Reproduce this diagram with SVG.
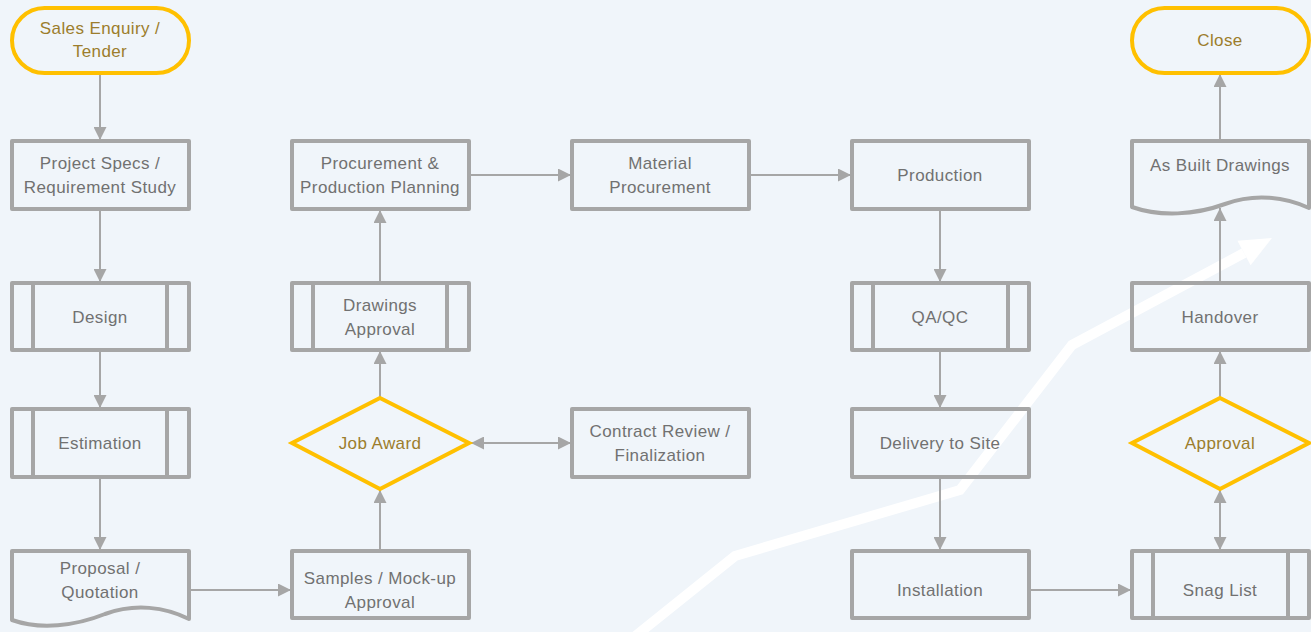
<svg xmlns="http://www.w3.org/2000/svg" width="1311" height="632" viewBox="0 0 1311 632">
<defs>
<style>
.box{fill:none;stroke:#a6a6a6;stroke-width:4;stroke-linejoin:round}
.inner{stroke:#a6a6a6;stroke-width:4}
.term{fill:none;stroke:#ffc000;stroke-width:4}
.t{font-family:"Liberation Sans",Arial,sans-serif;font-size:17px;letter-spacing:0.4px;fill:#717171;text-anchor:middle}
.g{fill:#9c7d2c}
.c{fill:none;stroke:#a6a6a6;stroke-width:2}
</style>
<marker id="ah" viewBox="0 0 13 13" refX="13" refY="6.5" markerWidth="13" markerHeight="13" markerUnits="userSpaceOnUse" orient="auto-start-reverse">
<path d="M0,0 L13,6.5 L0,13 Z" fill="#a6a6a6"/>
</marker>
</defs>
<rect width="1311" height="632" fill="#f0f5fa"/>
<g id="trend">
<polyline points="628,642 735,556 960,490 1072,345 1244,253" fill="none" stroke="#ffffff" stroke-width="10" stroke-linejoin="miter"/>
<polygon points="1272,238 1250.6,265.3 1237.4,240.7" fill="#ffffff"/>
</g>
<g id="connectors">
<line class="c" x1="100" y1="74" x2="100" y2="140" marker-end="url(#ah)"/>
<line class="c" x1="100" y1="210" x2="100" y2="282" marker-end="url(#ah)"/>
<line class="c" x1="100" y1="351" x2="100" y2="408" marker-end="url(#ah)"/>
<line class="c" x1="100" y1="478" x2="100" y2="550" marker-end="url(#ah)"/>
<line class="c" x1="190" y1="590" x2="291" y2="590" marker-end="url(#ah)"/>
<line class="c" x1="380" y1="550" x2="380" y2="490" marker-end="url(#ah)"/>
<line class="c" x1="380" y1="397" x2="380" y2="351" marker-end="url(#ah)"/>
<line class="c" x1="380" y1="282" x2="380" y2="210" marker-end="url(#ah)"/>
<line class="c" x1="470" y1="175" x2="571" y2="175" marker-end="url(#ah)"/>
<line class="c" x1="750" y1="175" x2="851" y2="175" marker-end="url(#ah)"/>
<line class="c" x1="471" y1="443" x2="571" y2="443" marker-start="url(#ah)" marker-end="url(#ah)"/>
<line class="c" x1="940" y1="210" x2="940" y2="282" marker-end="url(#ah)"/>
<line class="c" x1="940" y1="351" x2="940" y2="408" marker-end="url(#ah)"/>
<line class="c" x1="940" y1="478" x2="940" y2="550" marker-end="url(#ah)"/>
<line class="c" x1="1030" y1="590" x2="1131" y2="590" marker-end="url(#ah)"/>
<line class="c" x1="1220" y1="550" x2="1220" y2="490" marker-start="url(#ah)" marker-end="url(#ah)"/>
<line class="c" x1="1220" y1="397" x2="1220" y2="351" marker-end="url(#ah)"/>
<line class="c" x1="1220" y1="282" x2="1220" y2="208" marker-end="url(#ah)"/>
<line class="c" x1="1220" y1="140" x2="1220" y2="74" marker-end="url(#ah)"/>
</g>
<g id="sales-enquiry">
<rect class="term" x="12" y="8" width="177" height="65" rx="32.5"/>
<text class="t g" x="100" y="34">Sales Enquiry /</text>
<text class="t g" x="100" y="57">Tender</text>
</g>
<g id="project-specs">
<rect class="box" x="12" y="141" width="177" height="68"/>
<text class="t" x="100" y="169">Project Specs /</text>
<text class="t" x="100" y="193">Requirement Study</text>
</g>
<g id="design">
<rect class="box" x="12" y="283" width="177" height="67"/>
<line class="inner" x1="33" y1="283" x2="33" y2="350"/>
<line class="inner" x1="167" y1="283" x2="167" y2="350"/>
<text class="t" x="100" y="323">Design</text>
</g>
<g id="estimation">
<rect class="box" x="12" y="409" width="177" height="68"/>
<line class="inner" x1="33" y1="409" x2="33" y2="477"/>
<line class="inner" x1="167" y1="409" x2="167" y2="477"/>
<text class="t" x="100" y="449">Estimation</text>
</g>
<g id="proposal">
<path class="box" d="M12,551 H189 V619 C165,607 135,603 105,614 C75,626 40,630 12,620 Z"/>
<text class="t" x="100" y="574">Proposal /</text>
<text class="t" x="100" y="598">Quotation</text>
</g>
<g id="samples">
<rect class="box" x="292" y="551" width="177" height="67"/>
<text class="t" x="380" y="584">Samples / Mock-up</text>
<text class="t" x="380" y="608">Approval</text>
</g>
<g id="job-award">
<polygon class="term" points="380,398 469,443 380,489 292,443"/>
<text class="t g" x="380" y="449">Job Award</text>
</g>
<g id="contract-review">
<rect class="box" x="572" y="409" width="177" height="68"/>
<text class="t" x="660" y="437">Contract Review /</text>
<text class="t" x="660" y="461">Finalization</text>
</g>
<g id="drawings-approval">
<rect class="box" x="292" y="283" width="177" height="67"/>
<line class="inner" x1="313" y1="283" x2="313" y2="350"/>
<line class="inner" x1="447" y1="283" x2="447" y2="350"/>
<text class="t" x="380" y="311">Drawings</text>
<text class="t" x="380" y="335">Approval</text>
</g>
<g id="procurement-planning">
<rect class="box" x="292" y="141" width="177" height="68"/>
<text class="t" x="380" y="169">Procurement &amp;</text>
<text class="t" x="380" y="193">Production Planning</text>
</g>
<g id="material-procurement">
<rect class="box" x="572" y="141" width="177" height="68"/>
<text class="t" x="660" y="169">Material</text>
<text class="t" x="660" y="193">Procurement</text>
</g>
<g id="production">
<rect class="box" x="852" y="141" width="177" height="68"/>
<text class="t" x="940" y="181">Production</text>
</g>
<g id="qaqc">
<rect class="box" x="852" y="283" width="177" height="67"/>
<line class="inner" x1="873" y1="283" x2="873" y2="350"/>
<line class="inner" x1="1008" y1="283" x2="1008" y2="350"/>
<text class="t" x="940" y="323">QA/QC</text>
</g>
<g id="delivery">
<rect class="box" x="852" y="409" width="177" height="68"/>
<text class="t" x="940" y="449">Delivery to Site</text>
</g>
<g id="installation">
<rect class="box" x="852" y="551" width="177" height="67"/>
<text class="t" x="940" y="596">Installation</text>
</g>
<g id="snag-list">
<rect class="box" x="1132" y="551" width="177" height="67"/>
<line class="inner" x1="1153" y1="551" x2="1153" y2="618"/>
<line class="inner" x1="1288" y1="551" x2="1288" y2="618"/>
<text class="t" x="1220" y="596">Snag List</text>
</g>
<g id="approval">
<polygon class="term" points="1220,398 1309,443 1220,489 1132,443"/>
<text class="t g" x="1220" y="449">Approval</text>
</g>
<g id="handover">
<rect class="box" x="1132" y="283" width="177" height="67"/>
<text class="t" x="1220" y="323">Handover</text>
</g>
<g id="as-built">
<path class="box" d="M1132,141 H1309 V208 C1285,197 1255,193 1225,204 C1195,215 1160,217 1132,207 Z"/>
<text class="t" x="1220" y="171">As Built Drawings</text>
</g>
<g id="close">
<rect class="term" x="1132" y="8" width="177" height="65" rx="32.5"/>
<text class="t g" x="1220" y="46">Close</text>
</g>
</svg>
